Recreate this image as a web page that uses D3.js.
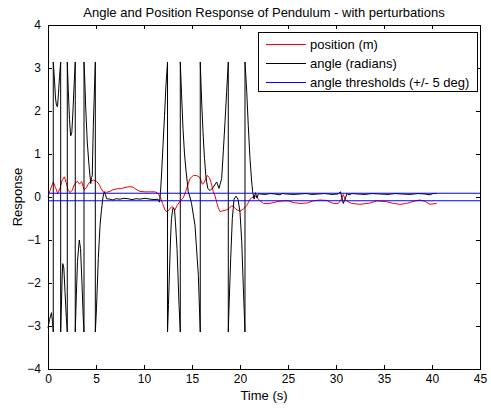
<!DOCTYPE html>
<html>
<head>
<meta charset="utf-8">
<script src="https://cdn.jsdelivr.net/npm/d3@7"></script>
<style>
  html, body { margin: 0; padding: 0; background: #fff; }
  svg { display: block; font-family: "Liberation Sans", Arial, Helvetica, sans-serif; }
</style>
</head>
<body>
<svg id="chart" width="491" height="408"></svg>
<script>
// ---- data ----
const chartTitle = "Angle and Position Response of Pendulum - with perturbations";
const xLabel = "Time (s)";
const yLabel = "Response";
const xTicks = [0, 5, 10, 15, 20, 25, 30, 35, 40, 45];
const yTicks = [-4, -3, -2, -1, 0, 1, 2, 3, 4];
const legendLabels = ["position (m)", "angle (radians)", "angle thresholds (+/- 5 deg)"];
const thresholdValues = [0.0873, -0.0873];
const thresholdSpan = [0, 45];

// position (m): [time, value]
const positionData = [
  [0.00,0.00],[0.21,0.15],[0.55,0.35],[0.78,0.22],[1.01,0.08],[1.25,0.20],[1.46,0.38],[1.70,0.47],
  [1.88,0.35],[2.08,0.18],[2.29,0.10],[2.50,0.15],[2.71,0.28],[3.05,0.37],[3.28,0.30],[3.51,0.36],
  [3.65,0.25],[3.78,0.17],[4.01,0.22],[4.27,0.33],[4.53,0.38],[4.72,0.39],[5.07,0.36],[5.31,0.30],
  [5.52,0.20],[5.76,0.12],[6.11,0.11],[6.46,0.13],[6.77,0.17],[7.19,0.19],[7.68,0.20],[8.23,0.23],
  [8.54,0.24],[8.85,0.23],[9.17,0.18],[9.58,0.13],[10.10,0.12],[10.63,0.12],[11.15,0.12],[11.49,0.08],
  [11.72,-0.02],[11.93,-0.15],[12.19,-0.30],[12.40,-0.35],[12.60,-0.30],[12.89,-0.22],[13.07,-0.25],
  [13.23,-0.30],[13.44,-0.20],[13.75,-0.10],[14.09,-0.02],[14.38,0.15],[14.61,0.31],[14.79,0.43],
  [15.14,0.50],[15.49,0.50],[15.83,0.45],[16.07,0.30],[16.25,0.33],[16.59,0.50],[16.82,0.45],
  [17.03,0.30],[17.22,0.12],[17.40,0.03],[17.57,-0.12],[17.74,-0.25],[17.92,-0.34],[18.23,-0.32],
  [18.61,-0.30],[18.85,-0.27],[19.14,-0.20],[19.38,-0.24],[19.69,-0.30],[20.00,-0.33],[20.34,-0.28],
  [20.70,-0.20],[21.04,-0.05],[21.22,-0.02],[21.56,0.03],[21.91,-0.05],[22.43,-0.15],[23.13,-0.15],
  [23.82,-0.11],[24.51,-0.09],[25.03,-0.09],[25.55,-0.13],[26.25,-0.15],[26.95,-0.14],[27.64,-0.09],
  [28.33,-0.07],[29.03,-0.08],[29.72,-0.15],[30.24,-0.15],[30.52,-0.07],[30.76,0.06],[30.94,-0.05],
  [31.15,-0.10],[31.64,-0.15],[32.50,-0.17],[33.54,-0.14],[34.24,-0.09],[35.28,-0.11],[35.97,-0.15],
  [36.67,-0.17],[37.36,-0.15],[38.05,-0.10],[38.75,-0.07],[39.27,-0.10],[39.79,-0.17],[40.49,-0.15]
];

// angle (radians), wrapped to [-pi, pi]: [time, value]
const angleData = [
  [0.00,-3.05],[0.16,-2.85],[0.36,-2.69],[0.47,-2.90],[0.55,-3.14],
  [0.55,3.14],[0.68,2.70],[0.78,2.30],[0.89,2.12],[0.99,2.10],[1.09,2.40],[1.20,2.80],[1.32,3.14],
  [1.32,-3.14],[1.41,-2.40],[1.48,-1.80],[1.54,-1.55],[1.65,-1.65],[1.77,-2.20],[1.91,-2.80],[2.01,-3.14],
  [2.01,3.14],[2.11,2.50],[2.24,1.80],[2.36,1.42],[2.48,1.50],[2.60,2.00],[2.74,2.70],[2.84,3.14],
  [2.84,-3.14],[2.95,-2.30],[3.07,-1.50],[3.26,-1.00],[3.39,-1.20],[3.54,-2.00],[3.67,-2.80],[3.75,-3.14],
  [3.75,3.14],[3.85,2.60],[3.93,2.07],[4.09,1.28],[4.27,0.74],[4.45,0.31],[4.53,0.45],[4.61,0.50],
  [4.72,1.67],[4.81,2.30],[4.93,3.14],
  [4.93,-3.14],[5.05,-2.60],[5.24,-1.43],[5.42,-0.66],[5.57,-0.30],[5.73,0.00],[5.86,0.12],[5.99,0.05],
  [6.11,-0.04],[6.46,-0.05],[6.77,-0.07],[7.08,-0.04],[7.50,-0.05],[7.92,-0.03],[8.33,-0.04],[8.75,-0.06],
  [9.17,-0.04],[9.58,-0.05],[10.10,-0.03],[10.63,-0.05],[11.15,-0.06],[11.46,-0.05],[11.61,-0.12],
  [11.72,0.10],[11.84,0.58],[11.98,1.20],[12.14,1.90],[12.29,2.60],[12.45,3.14],
  [12.45,-3.14],[12.55,-2.50],[12.66,-1.70],[12.76,-1.00],[12.86,-0.50],[13.02,-0.25],[13.18,-0.30],
  [13.28,-0.60],[13.44,-1.20],[13.65,-2.50],[13.78,-3.14],
  [13.78,3.14],[13.91,2.40],[14.06,1.60],[14.22,1.00],[14.38,0.60],[14.53,0.30],[14.61,0.12],[14.79,0.00],
  [14.95,-0.15],[15.31,-0.66],[15.66,-1.82],[15.86,-3.14],
  [15.86,3.14],[15.99,2.30],[16.15,1.50],[16.30,0.90],[16.46,0.45],[16.64,0.20],[16.88,0.15],[17.19,0.22],
  [17.57,0.35],[17.81,0.20],[18.09,0.43],[18.26,1.05],[18.44,1.75],[18.61,2.45],[18.78,3.14],
  [18.78,-3.14],[18.85,-2.60],[19.03,-1.43],[19.20,-0.50],[19.38,-0.05],[19.58,0.02],[19.79,-0.05],
  [20.00,-0.35],[20.18,-1.04],[20.34,-2.05],[20.52,-3.14],
  [20.52,3.14],[20.70,2.45],[20.86,1.67],[21.04,0.90],[21.22,0.35],[21.32,0.12],[21.46,-0.05],[21.61,0.10],
  [21.77,-0.02],[21.93,0.08],[22.08,0.07],[22.60,0.06],[23.13,0.08],[23.65,0.07],[24.17,0.05],[24.38,0.08],
  [24.90,0.07],[25.52,0.06],[26.25,0.07],[26.88,0.08],[27.50,0.06],[28.13,0.07],[28.85,0.08],[29.58,0.06],
  [30.21,0.07],[30.47,0.12],[30.76,-0.15],[30.94,-0.05],[31.15,0.08],[31.35,0.05],[31.67,0.08],[32.29,0.07],
  [33.02,0.06],[33.75,0.08],[34.58,0.07],[35.42,0.06],[36.15,0.08],[36.88,0.07],[37.71,0.06],[38.54,0.08],
  [39.27,0.07],[39.79,0.05],[40.10,0.08],[40.49,0.08]
];

// ---- layout ----
const svg = d3.select("#chart");
const W = 491, H = 408;
const plot = { left: 48, top: 25, right: 480, bottom: 369 };

const x = d3.scaleLinear().domain([0, 45]).range([plot.left, plot.right]);
const y = d3.scaleLinear().domain([-4, 4]).range([plot.bottom, plot.top]);

svg.append("rect").attr("width", W).attr("height", H).attr("fill", "#fff");
svg.append("rect")
  .attr("x", plot.left).attr("y", plot.top)
  .attr("width", plot.right - plot.left).attr("height", plot.bottom - plot.top)
  .attr("fill", "#fff");

// series
const line = d3.line().x(d => x(d[0])).y(d => y(d[1]));

svg.append("path").datum(positionData)
  .attr("d", line).attr("fill", "none").attr("stroke", "#ff0000").attr("stroke-width", 1);
svg.append("path").datum(angleData)
  .attr("d", line).attr("fill", "none").attr("stroke", "#000000").attr("stroke-width", 1);
thresholdValues.forEach(v => {
  svg.append("path").datum(thresholdSpan.map(t => [t, v]))
    .attr("d", line).attr("fill", "none").attr("stroke", "#0000ff").attr("stroke-width", 1);
});

// axes
const tickLen = 4;
const fontSize = "12px";
const gx = svg.append("g").attr("transform", `translate(0,${plot.bottom})`)
  .call(d3.axisBottom(x).tickValues(xTicks).tickSizeInner(-tickLen).tickSizeOuter(0).tickPadding(5).tickFormat(d3.format("d")));
const gy = svg.append("g").attr("transform", `translate(${plot.left},0)`)
  .call(d3.axisLeft(y).tickValues(yTicks).tickSizeInner(-tickLen).tickSizeOuter(0).tickPadding(7).tickFormat(d3.format("d")));
const gt = svg.append("g").attr("transform", `translate(0,${plot.top})`)
  .call(d3.axisTop(x).tickValues(xTicks).tickSizeInner(-tickLen).tickSizeOuter(0).tickFormat(""));
const gr = svg.append("g").attr("transform", `translate(${plot.right},0)`)
  .call(d3.axisRight(y).tickValues(yTicks).tickSizeInner(-tickLen).tickSizeOuter(0).tickFormat(""));

[gx, gy, gt, gr].forEach(g => {
  g.selectAll("path, line").attr("stroke", "#000").attr("shape-rendering", "crispEdges");
  g.selectAll("text").attr("fill", "#000").style("font-size", fontSize)
    .style("font-family", '"Liberation Sans", Arial, Helvetica, sans-serif');
});

// titles
svg.append("text").attr("x", (plot.left + plot.right) / 2).attr("y", 17)
  .attr("text-anchor", "middle").style("font-size", "13px").attr("fill", "#000").text(chartTitle);
svg.append("text").attr("x", (plot.left + plot.right) / 2).attr("y", 400)
  .attr("text-anchor", "middle").style("font-size", "13px").attr("fill", "#000").text(xLabel);
svg.append("text").attr("transform", `translate(22,${(plot.top + plot.bottom) / 2}) rotate(-90)`)
  .attr("text-anchor", "middle").style("font-size", "13px").attr("fill", "#000").text(yLabel);

// legend
const legendColors = ["#ff0000", "#000000", "#0000ff"];
const lg = svg.append("g");
lg.append("rect").attr("x", 258.5).attr("y", 32.5).attr("width", 219).attr("height", 59)
  .attr("fill", "#fff").attr("stroke", "#000").attr("stroke-width", 1).attr("shape-rendering", "crispEdges");
legendLabels.forEach((lab, i) => {
  const ry = 44 + i * 19;
  lg.append("line").attr("x1", 266).attr("x2", 306).attr("y1", ry + 0.5).attr("y2", ry + 0.5)
    .attr("stroke", legendColors[i]).attr("stroke-width", 1);
  lg.append("text").attr("x", 310).attr("y", ry + 4.5).style("font-size", "13px")
    .attr("fill", "#000").text(lab);
});
</script>
</body>
</html>
